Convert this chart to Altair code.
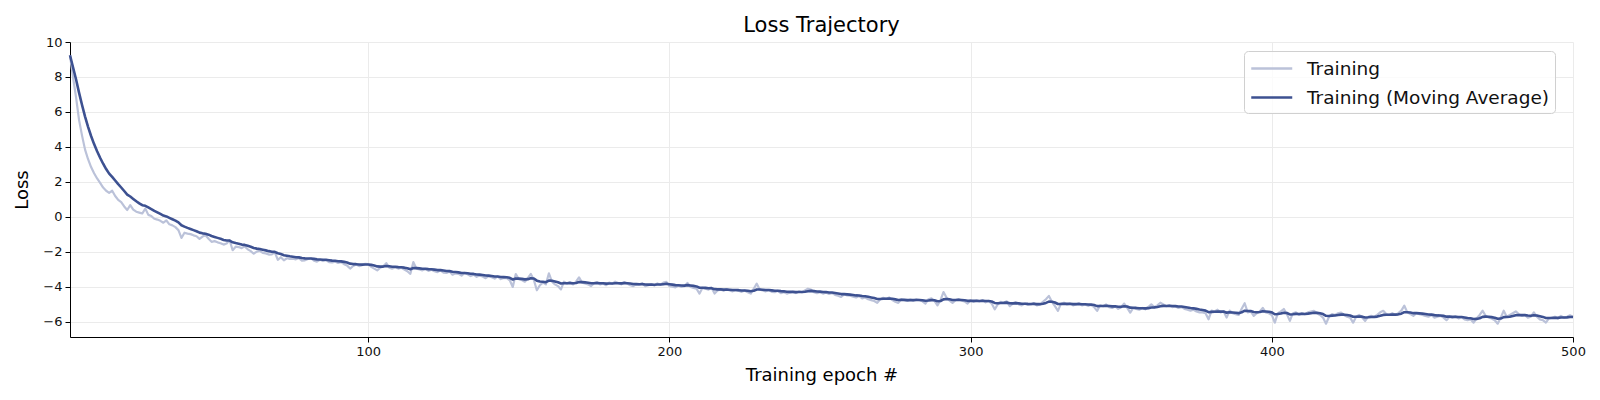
import altair as alt
import pandas as pd

# ---- data (training loss per epoch) ----
loss_001_100 = [
    9.24, 8.0, 6.85, 5.55, 4.65, 3.85, 3.3, 2.85, 2.5, 2.2,
    1.95, 1.68, 1.5, 1.38, 1.5, 1.2, 0.98, 0.85, 0.6, 0.4,
    0.68, 0.42, 0.3, 0.25, 0.2, 0.48, 0.12, 0.05, -0.1, -0.15,
    -0.22, -0.33, -0.2, -0.42, -0.48, -0.58, -0.75, -1.2, -0.9, -0.95,
    -0.98, -1.05, -1.1, -1.25, -1.12, -1.05, -1.25, -1.42, -1.38, -1.45,
    -1.5, -1.58, -1.52, -1.33, -1.9, -1.7, -1.72, -1.78, -1.68, -1.85,
    -1.95, -2.1, -1.98, -1.93, -2.05, -2.08, -2.15, -2.14, -2.02, -2.45,
    -2.3, -2.48, -2.36, -2.4, -2.38, -2.42, -2.35, -2.5, -2.48, -2.4,
    -2.36, -2.5, -2.55, -2.45, -2.52, -2.47, -2.58, -2.6, -2.55, -2.63,
    -2.58, -2.7, -2.78, -2.95, -2.8, -2.72, -2.81, -2.75, -2.68, -2.7,
]
loss_101_200 = [
    -2.85, -2.95, -3.05, -2.9, -2.82, -2.64, -2.9, -2.95, -2.88, -2.95,
    -2.9, -3.0, -3.1, -3.25, -2.58, -2.95, -3.0, -3.05, -2.98, -3.08,
    -3.02, -3.1, -3.15, -3.05, -3.18, -3.2, -3.12, -3.3, -3.22, -3.25,
    -3.35, -3.2, -3.28, -3.38, -3.3, -3.42, -3.35, -3.4, -3.5, -3.38,
    -3.45, -3.52, -3.4, -3.55, -3.48, -3.5, -3.62, -4.0, -3.26, -3.55,
    -3.6, -3.7, -3.5, -3.26, -3.6, -4.19, -3.9, -3.75, -3.85, -3.22,
    -3.7, -3.85, -3.95, -4.14, -3.7, -3.8, -3.72, -3.85, -3.7, -3.45,
    -3.75, -3.8, -3.85, -3.95, -3.78, -3.72, -3.85, -3.8, -3.9, -3.75,
    -3.82, -3.7, -3.78, -3.85, -3.72, -3.8, -3.9, -3.95, -3.85, -3.88,
    -3.8, -3.95, -3.9, -3.85, -3.92, -3.8, -3.88, -3.75, -3.71, -3.95,
]
loss_201_300 = [
    -3.98, -4.02, -3.92, -4.0, -3.95, -3.77, -4.0, -4.05, -4.1, -4.38,
    -4.05, -4.1, -4.15, -4.05, -4.38, -4.2, -4.15, -4.22, -4.12, -4.2,
    -4.25, -4.18, -4.22, -4.28, -4.2, -4.3, -4.38, -4.1, -3.81, -4.15,
    -4.2, -4.25, -4.18, -4.28, -4.3, -4.22, -4.35, -4.3, -4.38, -4.32,
    -4.28, -4.35, -4.25, -4.3, -4.2, -4.1, -4.15, -4.3, -4.35, -4.3,
    -4.38, -4.32, -4.4, -4.35, -4.45, -4.5, -4.57, -4.42, -4.48, -4.5,
    -4.55, -4.6, -4.52, -4.65, -4.6, -4.7, -4.75, -4.8, -4.91, -4.7,
    -4.62, -4.68, -4.6, -4.75, -4.85, -4.91, -4.7, -4.75, -4.8, -4.72,
    -4.78, -4.7, -4.75, -4.82, -4.95, -4.7, -4.65, -4.8, -5.05, -4.75,
    -4.29, -4.6, -4.78, -4.91, -4.75, -4.7, -4.78, -4.82, -4.95, -4.75,
]
loss_301_400 = [
    -4.85, -4.78, -4.82, -4.75, -4.88, -4.8, -4.95, -5.28, -5.0, -4.85,
    -4.9, -4.82, -5.1, -4.95, -4.88, -5.0, -5.05, -4.95, -5.02, -5.0,
    -4.92, -5.05, -5.0, -4.85, -4.7, -4.51, -4.85, -5.1, -5.37, -4.95,
    -4.9, -5.0, -4.95, -5.05, -5.0, -4.92, -5.05, -5.0, -5.08, -5.02,
    -5.15, -5.37, -5.05, -5.1, -5.0, -5.15, -5.2, -5.1, -5.25, -5.15,
    -4.95, -5.2, -5.47, -5.2, -5.25, -5.3, -5.2, -5.28, -5.15, -4.99,
    -5.15, -5.05, -4.9, -5.0, -5.1, -5.05, -5.15, -5.1, -5.2, -5.15,
    -5.25, -5.3, -5.35, -5.3, -5.4, -5.45, -5.45, -5.5, -5.85, -5.35,
    -5.4, -5.3, -5.45, -5.4, -5.75, -5.35, -5.5, -5.55, -5.6, -5.25,
    -4.93, -5.45, -5.4, -5.65, -5.5, -5.4, -5.2, -5.45, -5.5, -5.6,
]
loss_401_500 = [
    -6.04, -5.5, -5.4, -5.26, -5.55, -5.94, -5.5, -5.45, -5.6, -5.5,
    -5.55, -5.45, -5.4, -5.36, -5.5, -5.6, -5.75, -6.1, -5.7, -5.55,
    -5.6, -5.5, -5.46, -5.6, -5.7, -5.75, -6.04, -5.7, -5.6, -5.75,
    -5.94, -5.7, -5.65, -5.7, -5.6, -5.45, -5.36, -5.55, -5.6, -5.5,
    -5.6, -5.5, -5.35, -5.07, -5.45, -5.55, -5.65, -5.5, -5.55, -5.6,
    -5.65, -5.7, -5.6, -5.75, -5.7, -5.65, -5.75, -5.9, -5.7, -5.75,
    -5.68, -5.8, -5.72, -5.85, -5.9, -5.85, -6.04, -5.8, -5.6, -5.36,
    -5.65, -5.75, -5.8, -5.9, -6.1, -5.75, -5.36, -5.7, -5.6, -5.5,
    -5.4, -5.55, -5.65, -5.6, -5.75, -5.7, -5.46, -5.7, -5.85, -5.9,
    -6.04, -5.8, -5.75, -5.7, -5.8, -5.65, -5.75, -5.7, -5.62, -5.72,
]

series_names = ["Training", "Training (Moving Average)"]
x_ticks = [100, 200, 300, 400, 500]
y_ticks = [-6, -4, -2, 0, 2, 4, 6, 8, 10]

train = loss_001_100 + loss_101_200 + loss_201_300 + loss_301_400 + loss_401_500
epochs = list(range(1, len(train) + 1))
moving_avg = pd.Series(train).ewm(span=10, adjust=True).mean().tolist()

df = pd.DataFrame({
    "epoch": epochs + epochs,
    "loss": train + moving_avg,
    "series": [series_names[0]] * len(train) + [series_names[1]] * len(train),
})

LIGHT = "#bbc2d9"
DARK = "#3d5191"
FONT = "DejaVu Sans"

color = alt.Color(
    "series:N",
    scale=alt.Scale(domain=series_names, range=[LIGHT, DARK]),
    legend=alt.Legend(
        title=None, orient="none", legendX=1174, legendY=9,
        symbolType="M-1,0H3", symbolSize=420, symbolStrokeWidth=2.5,
        labelFontSize=18.5, labelFont=FONT, labelColor="#111", labelLimit=0,
        labelOffset=34, rowPadding=8, padding=6,
        fillColor="rgba(255,255,255,0.8)", strokeColor="#d0d0d0",
        cornerRadius=4,
    ),
)

x = alt.X("epoch:Q", scale=alt.Scale(domain=[1, 500], nice=False, zero=False),
          axis=alt.Axis(values=x_ticks, format="d", title="Training epoch #",
                        titlePadding=8, labelFlush=False))
y = alt.Y("loss:Q", scale=alt.Scale(domain=[-6.86, 10], nice=False, zero=False),
          axis=alt.Axis(values=y_ticks, format="d", title="Loss", titlePadding=11,
                        labelFlush=False))

base = alt.Chart(df)
light = base.transform_filter(alt.datum.series == series_names[0]).mark_line(
    strokeWidth=2.2, strokeJoin="round").encode(x=x, y=y, color=color)
dark = base.transform_filter(alt.datum.series == series_names[1]).mark_line(
    strokeWidth=2.6, strokeJoin="round").encode(x=x, y=y, color=color)

chart = alt.layer(light, dark).properties(
    width=1503, height=295,
    title=alt.TitleParams("Loss Trajectory", fontSize=21, font=FONT,
                          fontWeight="normal", color="#000", offset=0),
    autosize=alt.AutoSizeParams(type="none"),
    padding={"left": 62, "top": 34, "right": 19, "bottom": 52},
).configure_view(strokeWidth=0).configure_axis(
    domainColor="#000", domainWidth=1, tickColor="#000", tickWidth=1, tickSize=5,
    gridColor="#ebebeb", gridWidth=1,
    labelFont=FONT, labelFontSize=13, labelColor="#111", labelPadding=3,
    titleFont=FONT, titleFontSize=18, titleFontWeight="normal", titleColor="#000",
)

chart.save("out.html", embed_options={"renderer": "svg", "actions": False})
